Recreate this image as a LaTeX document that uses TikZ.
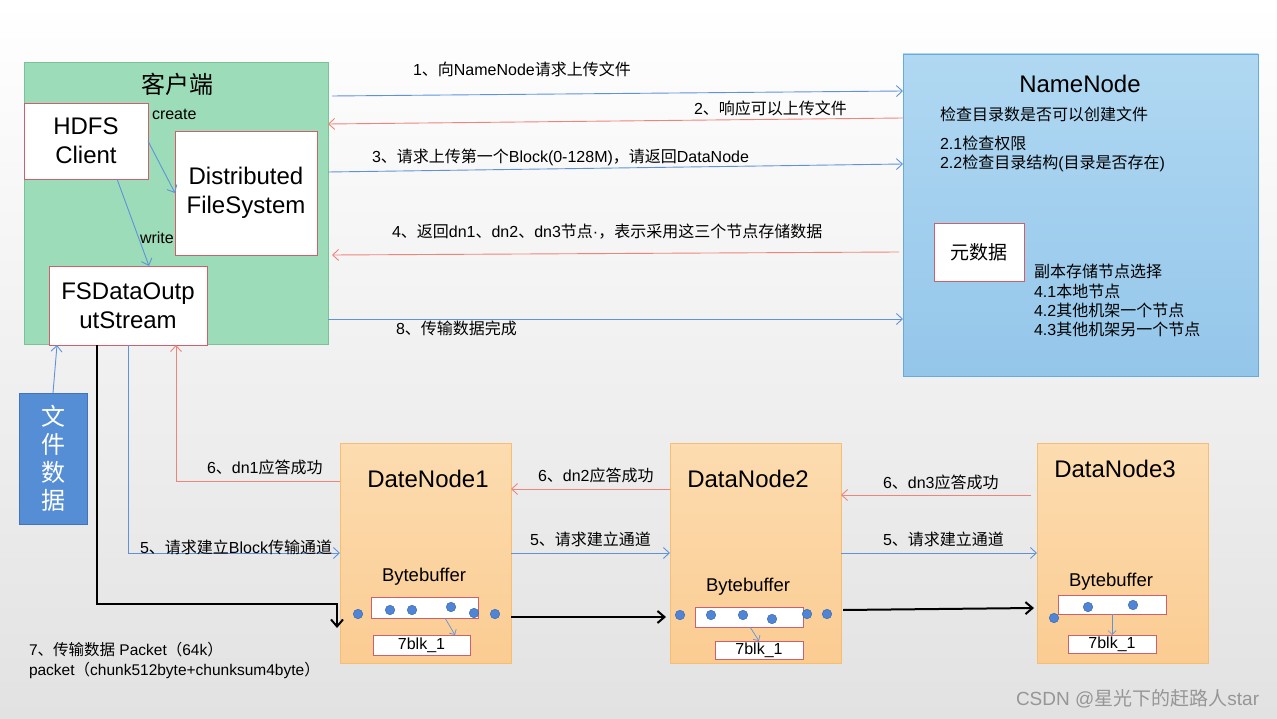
\documentclass[tikz,border=0pt]{standalone}
\usepackage{fontspec}
\setmainfont{Liberation Sans}
\newfontfamily\cjk{Noto Sans CJK SC}
\usetikzlibrary{arrows.meta,calc}
\newcommand\zh[1]{{\cjk #1}}
\definecolor{bggray}{RGB}{226,226,226}
\definecolor{cgreen}{RGB}{157,220,184}
\definecolor{cgreenb}{RGB}{120,196,152}
\definecolor{nntop}{RGB}{176,216,242}
\definecolor{nnbot}{RGB}{148,198,234}
\definecolor{nnb}{RGB}{104,170,220}
\definecolor{dntop}{RGB}{252,220,176}
\definecolor{dnbot}{RGB}{251,204,146}
\definecolor{dnb}{RGB}{246,190,112}
\definecolor{boxred}{RGB}{206,96,108}
\definecolor{lblue}{RGB}{96,146,218}
\definecolor{lred}{RGB}{238,132,122}
\definecolor{fbox}{RGB}{86,142,214}
\definecolor{fboxb}{RGB}{66,116,190}
\definecolor{dotc}{RGB}{80,132,212}
\definecolor{dotb}{RGB}{60,104,176}
\definecolor{wmark}{RGB}{150,150,150}
\begin{document}
\begin{tikzpicture}[x=1pt,y=-1pt,
  every node/.style={inner sep=0pt, outer sep=0pt},
  wbox/.style={draw=boxred, fill=white, line width=0.9pt, align=center, font=\fontsize{24}{29}\selectfont},
  sbox/.style={draw=boxred, fill=white, line width=0.9pt, font=\fontsize{16}{19}\selectfont},
  lab/.style={anchor=west, font=\fontsize{16}{19}\selectfont},
  big/.style={font=\fontsize{24}{29}\selectfont},
  bigzh/.style={font=\cjk\fontsize{24}{29}\selectfont},
  bufl/.style={font=\fontsize{18.5}{22}\selectfont},
  dnbox/.style={draw=dnb, line width=0.9pt, top color=dntop, bottom color=dnbot, minimum width=171pt, minimum height=220pt},
  dot/.style={circle, fill=dotc, draw=dotb, line width=0.5pt, minimum size=9.5pt},
  barrow/.style={draw=lblue, line width=0.9pt, -{Straight Barb[length=6pt,width=11pt]}},
  rarrow/.style={draw=lred, line width=0.9pt, -{Straight Barb[length=6pt,width=11pt]}},
  karrow/.style={draw=black, line width=2pt, -{Straight Barb[length=7pt,width=12pt]}}
]
\useasboundingbox (0,0) rectangle (1277,719);
\shade[top color=white, bottom color=bggray] (0,0) rectangle (1277,719);

% client
\node[draw=cgreenb, fill=cgreen, line width=0.9pt, minimum width=304pt, minimum height=282pt] (client) at (176,203) {};
\node[bigzh] (ctitle) at (177,84) {客户端};
\node[wbox, minimum width=124pt, minimum height=76pt] (hdfs) at (86,141) {HDFS\\Client};
\node[wbox, minimum width=142pt, minimum height=124pt] (dfs) at (246,193) {Distributed\\FileSystem};
\node[wbox, minimum width=158pt, minimum height=79pt] (fsd) at (128,305.5) {FSDataOutp\\utStream};
\node[lab] (lcreate) at (152,114) {create};
\node[lab] (lwrite) at (140,238) {write};
\draw[barrow] (hdfs.east) -- (dfs.west);
\draw[barrow] (hdfs.south -| 117,0) -- (fsd.north -| 149,0);

% namenode
\node[draw=nnb, line width=0.9pt, top color=nntop, bottom color=nnbot, minimum width=355pt, minimum height=322pt] (nn) at (1080.5,215) {};
\node[big] (nntitle) at (1080,84) {NameNode};
\node[lab] (nn1) at (940,114) {\zh{检查目录数是否可以创建文件}};
\node[lab] (nn2) at (940,143) {2.1\zh{检查权限}};
\node[lab] (nn3) at (940,163) {2.2\zh{检查目录结构}(\zh{目录是否存在})};
\node[draw=boxred, fill=white, line width=0.9pt, minimum width=90pt, minimum height=58pt, font=\cjk\fontsize{19}{22}\selectfont] (meta) at (979,252) {元数据};
\node[lab] (r1) at (1034,271) {\zh{副本存储节点选择}};
\node[lab] (r2) at (1034,291) {4.1\zh{本地节点}};
\node[lab] (r3) at (1034,310) {4.2\zh{其他机架一个节点}};
\node[lab] (r4) at (1034,329) {4.3\zh{其他机架另一个节点}};

% client <-> namenode
\draw[barrow] ([xshift=4pt]client.east |- 0,96) -- (nn.west |- 0,91);
\draw[rarrow] (nn.west |- 0,118) -- (client.east |- 0,124);
\draw[barrow] (client.east |- 0,172) -- (nn.west |- 0,164);
\draw[rarrow] ([xshift=-4pt]nn.west |- 0,252) -- ([xshift=4pt]client.east |- 0,255);
\draw[barrow] (client.east |- 0,319) -- (nn.west |- 0,319);
\node[lab] (l1) at (413,69) {1\zh{、向}NameNode\zh{请求上传文件}};
\node[lab] (l2) at (694,108) {2\zh{、响应可以上传文件}};
\node[lab] (l3) at (372,157) {3\zh{、请求上传第一个}Block(0-128M)\zh{，请返回}DataNode};
\node[lab] (l4) at (392,232) {4\zh{、返回}dn1\zh{、}dn2\zh{、}dn3\zh{节点}·\zh{，表示采用这三个节点存储数据}};
\node[lab] (l8) at (396,328) {8\zh{、传输数据完成}};

% file data
\node[draw=fboxb, fill=fbox, line width=0.9pt, minimum width=68pt, minimum height=131pt, text=white, align=center, font=\cjk\fontsize{24}{28}\selectfont] (fdata) at (53,458.5) {文\\件\\数\\据};
\draw[barrow] (fdata.north) -- (fsd.south -| 57,0);

% datanodes
\node[dnbox] (dn1) at (425.5,553) {};
\node[dnbox] (dn2) at (755.5,553) {};
\node[dnbox] (dn3) at (1122.5,553) {};
\node[big] (dn1t) at (428,479) {DateNode1};
\node[big] (dn2t) at (748,479) {DataNode2};
\node[big] (dn3t) at (1115,469) {DataNode3};
\node[bufl] (bl1) at (424,577) {Bytebuffer};
\node[bufl] (bl2) at (748,587) {Bytebuffer};
\node[bufl] (bl3) at (1111,582) {Bytebuffer};
\node[sbox, minimum width=107pt, minimum height=21pt] (b1) at (424.5,607.5) {};
\node[sbox, minimum width=108pt, minimum height=20pt] (b2) at (749,617) {};
\node[sbox, minimum width=108pt, minimum height=19pt] (b3) at (1112,604.5) {};
\node[sbox, minimum width=97pt, minimum height=20pt] (k1) at (421.5,645) {7blk\_1};
\node[sbox, minimum width=88pt, minimum height=18pt] (k2) at (759,650) {7blk\_1};
\node[sbox, minimum width=88pt, minimum height=18pt] (k3) at (1112,644) {7blk\_1};
\draw[barrow, line width=0.7pt, -{Straight Barb[length=4pt,width=8pt]}] (b1.south -| 445,0) -- (k1.north -| 455,0);
\draw[barrow, line width=0.7pt, -{Straight Barb[length=4pt,width=8pt]}] (b2.south -| 750,0) -- (k2.north -| 759,0);
\draw[barrow, line width=0.7pt, -{Straight Barb[length=4pt,width=8pt]}] (b3.south) -- (k3.north);
\foreach \x/\y [count=\i] in {358/614, 390/610, 412/610, 451/607, 474/613, 495/614}
  \node[dot] (da\i) at (\x,\y) {};
\foreach \x/\y [count=\i] in {680/615, 711/615, 743/615, 772/619, 807/614, 827/614}
  \node[dot] (db\i) at (\x,\y) {};
\foreach \x/\y [count=\i] in {1054/618, 1088/607, 1133/605}
  \node[dot] (dc\i) at (\x,\y) {};

% client -> dn1
\coordinate (kc1) at (337,604);
\coordinate (kc2) at (337,628);
\draw[karrow] (fsd.south -| 97,0) |- (kc1) -- (kc2);
\draw[barrow] (fsd.south -| 128,0) |- (dn1.west |- 0,553);
\draw[rarrow] (dn1.west |- 0,481) -| (fsd.south -| 176,0);
\node[lab] (l6a) at (207,467) {6\zh{、}dn1\zh{应答成功}};
\node[lab] (l5a) at (140,547) {5\zh{、请求建立}Block\zh{传输通道}};

% dn1 <-> dn2 <-> dn3
\draw[rarrow] (dn2.west |- 0,489) -- (dn1.east |- 0,489);
\draw[barrow] (dn1.east |- 0,553) -- (dn2.west |- 0,553);
\draw[karrow] (dn1.east |- 0,617) -- ([xshift=-4pt]dn2.west |- 0,617);
\draw[rarrow] ([xshift=-6pt]dn3.west |- 0,495) -- (dn2.east |- 0,495);
\draw[barrow] (dn2.east |- 0,553) -- (dn3.west |- 0,553);
\draw[karrow] ([xshift=2pt]dn2.east |- 0,610) -- ([xshift=-3pt]dn3.west |- 0,608);
\node[lab] (l6b) at (538,475) {6\zh{、}dn2\zh{应答成功}};
\node[lab] (l5b) at (530,539) {5\zh{、请求建立通道}};
\node[lab] (l6c) at (883,482) {6\zh{、}dn3\zh{应答成功}};
\node[lab] (l5c) at (883,539) {5\zh{、请求建立通道}};

% bottom text
\node[lab, font=\fontsize{15.5}{19}\selectfont] (p1) at (29,650) {7\zh{、传输数据} Packet\zh{（}64k\zh{）}};
\node[lab, font=\fontsize{15.5}{19}\selectfont] (p2) at (29,670) {packet\zh{（}chunk512byte+chunksum4byte\zh{）}};
\node[lab, text=wmark, font=\fontsize{19}{22}\selectfont] (wm) at (1016,699) {CSDN @\zh{星光下的赶路人}star};
\end{tikzpicture}
\end{document}
